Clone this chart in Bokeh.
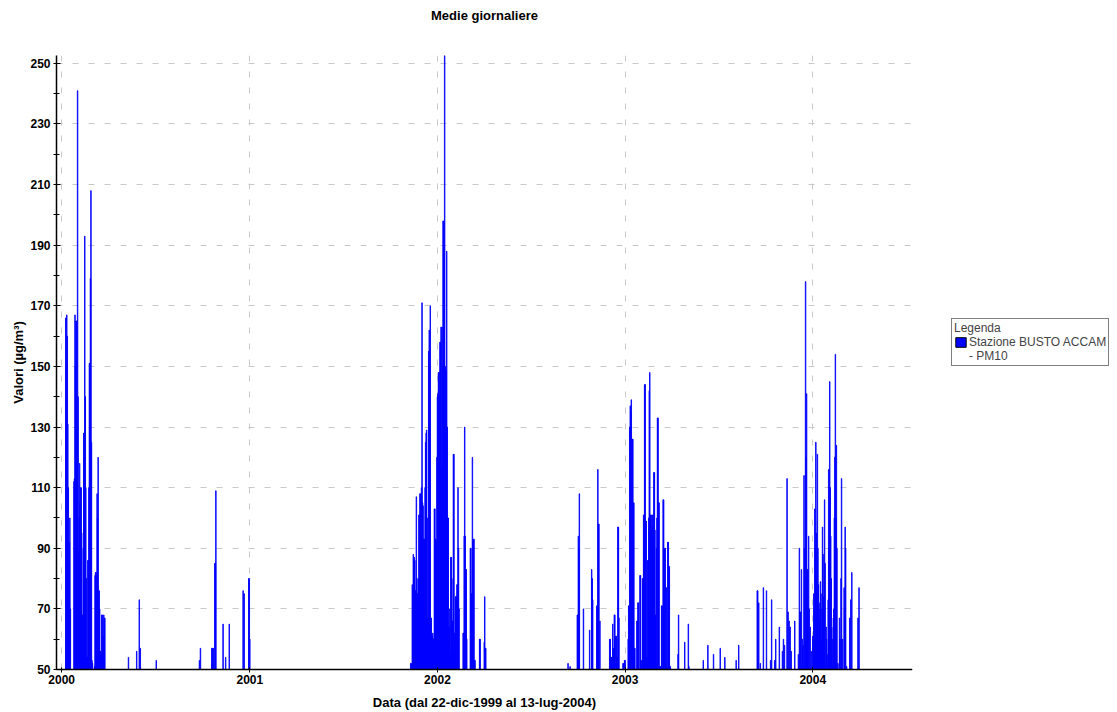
from datetime import datetime
from bokeh.plotting import figure
from bokeh.layouts import row
from bokeh.models import (Range1d, FixedTicker, DatetimeTickFormatter, Legend, LegendItem,
                          ColumnDataSource, Title)
from bokeh.embed import file_html
from bokeh.resources import INLINE

# ---------------- data (daily means, PM10, values above 50 shown) ----------------
dates_winter_2000 = [
    "2000-01-09", "2000-01-10", "2000-01-11", "2000-01-12", "2000-01-13", "2000-01-14", "2000-01-15",
    "2000-01-16", "2000-01-17", "2000-01-18",
    "2000-01-25", "2000-01-26", "2000-01-27", "2000-01-28", "2000-01-29", "2000-01-30", "2000-01-31",
    "2000-02-01", "2000-02-02", "2000-02-03", "2000-02-04", "2000-02-05", "2000-02-06", "2000-02-07",
    "2000-02-08", "2000-02-09", "2000-02-10", "2000-02-11", "2000-02-12", "2000-02-13", "2000-02-14",
    "2000-02-15", "2000-02-16", "2000-02-17", "2000-02-18", "2000-02-19", "2000-02-20", "2000-02-21",
    "2000-02-22", "2000-02-23", "2000-02-24", "2000-02-25", "2000-02-26", "2000-02-27", "2000-02-28",
    "2000-02-29", "2000-03-01",
    "2000-03-05", "2000-03-06", "2000-03-07", "2000-03-08", "2000-03-09", "2000-03-10", "2000-03-11",
    "2000-03-12", "2000-03-13", "2000-03-14", "2000-03-15", "2000-03-16", "2000-03-17", "2000-03-18",
    "2000-03-19", "2000-03-20", "2000-03-21", "2000-03-22", "2000-03-23", "2000-03-24", "2000-03-25",
]
values_winter_2000 = [
    166, 150, 167, 160, 131, 110, 85, 92, 100, 70,
    112, 113, 167, 150, 165, 165, 130, 241, 140, 89, 100, 118, 105, 110, 110, 95, 68, 68, 90, 128, 120,
    193, 140, 110, 80, 54, 54, 86, 86, 110, 151, 151, 179, 208, 125, 53, 52,
    51, 81, 82, 82, 81, 108, 100, 120, 76, 76, 70, 56, 56, 55, 68, 68, 61, 61, 68, 67, 67,
]

dates_2000_rest = [
    "2000-05-10", "2000-05-26", "2000-05-31", "2000-06-02", "2000-07-03", "2000-09-25", "2000-09-27",
    "2000-10-19", "2000-10-20", "2000-10-21", "2000-10-22", "2000-10-25", "2000-10-26", "2000-10-27",
    "2000-11-10", "2000-11-15", "2000-11-22", "2000-12-19", "2000-12-21", "2000-12-30", "2000-12-31",
    "2001-01-01",
]
values_2000_rest = [54, 56, 73, 57, 53, 53, 57, 57, 52, 57, 57, 85, 85, 109, 65, 54, 65, 76, 75, 80, 80, 60]

dates_winter_2002 = [
    "2001-11-10", "2001-11-11", "2001-11-13", "2001-11-14", "2001-11-15", "2001-11-16", "2001-11-17",
    "2001-11-18", "2001-11-19", "2001-11-20", "2001-11-21", "2001-11-22", "2001-11-23", "2001-11-24",
    "2001-11-25", "2001-11-26", "2001-11-27", "2001-11-28", "2001-11-29", "2001-11-30", "2001-12-01",
    "2001-12-02", "2001-12-03", "2001-12-04", "2001-12-05", "2001-12-06", "2001-12-07", "2001-12-08",
    "2001-12-09", "2001-12-10", "2001-12-11", "2001-12-12", "2001-12-13", "2001-12-14", "2001-12-15",
    "2001-12-16", "2001-12-17", "2001-12-18", "2001-12-19", "2001-12-20", "2001-12-21", "2001-12-22",
    "2001-12-23", "2001-12-24", "2001-12-25", "2001-12-26", "2001-12-27", "2001-12-28", "2001-12-29",
    "2001-12-30", "2001-12-31", "2002-01-01", "2002-01-02", "2002-01-03", "2002-01-04", "2002-01-05",
    "2002-01-06", "2002-01-07", "2002-01-08", "2002-01-09", "2002-01-10", "2002-01-11", "2002-01-12",
    "2002-01-13", "2002-01-14", "2002-01-15", "2002-01-16", "2002-01-17", "2002-01-18", "2002-01-19",
    "2002-01-20", "2002-01-21", "2002-01-22", "2002-01-23", "2002-01-24", "2002-01-25", "2002-01-26",
    "2002-01-27", "2002-01-28", "2002-01-29", "2002-01-30", "2002-01-31", "2002-02-01", "2002-02-02",
    "2002-02-03", "2002-02-04", "2002-02-05", "2002-02-06", "2002-02-07", "2002-02-08", "2002-02-09",
    "2002-02-10", "2002-02-11", "2002-02-12",
    "2002-02-20", "2002-02-21", "2002-02-22", "2002-02-23", "2002-02-24", "2002-02-25", "2002-02-26",
    "2002-02-27",
    "2002-03-06", "2002-03-07", "2002-03-08", "2002-03-09", "2002-03-10", "2002-03-11", "2002-03-12",
    "2002-03-13", "2002-03-14", "2002-03-15", "2002-03-24", "2002-03-25",
    "2002-04-02", "2002-04-03", "2002-04-04", "2002-04-05",
]
values_winter_2002 = [
    52, 52, 78, 76, 88, 86, 87,
    86, 76, 76, 107, 80, 75, 75,
    80, 101, 101, 108, 108, 95, 110,
    171, 105, 104, 93, 93, 93, 110,
    125, 128, 129, 100, 67, 67, 155,
    162, 150, 170, 67, 67, 61, 61,
    62, 60, 60, 103, 103, 93, 93,
    92, 120, 140, 141, 148, 148, 140,
    158, 158, 163, 116, 163, 150, 198,
    198, 190, 253, 150, 149, 148, 188,
    130, 100, 100, 64, 64, 70, 55,
    87, 87, 80, 66, 66, 121, 121,
    62, 62, 74, 74, 74, 78, 78,
    110, 90, 70,
    62, 62, 94, 130, 94, 83, 83,
    60,
    90, 90, 75, 75, 120, 93, 93,
    93, 53, 53, 60, 60,
    59, 74, 57, 57,
]

dates_winter_2003 = [
    "2002-09-12", "2002-09-16", "2002-09-30", "2002-10-01", "2002-10-02", "2002-10-03", "2002-10-04",
    "2002-10-12", "2002-10-24", "2002-10-28", "2002-10-29", "2002-10-30", "2002-11-07", "2002-11-08",
    "2002-11-09", "2002-11-10", "2002-11-11", "2002-11-13",
    "2002-12-02", "2002-12-03", "2002-12-05", "2002-12-06", "2002-12-08", "2002-12-09", "2002-12-10",
    "2002-12-11", "2002-12-12", "2002-12-14", "2002-12-15", "2002-12-16", "2002-12-17", "2002-12-18",
    "2002-12-19", "2002-12-20", "2002-12-28", "2002-12-29", "2002-12-31", "2003-01-01",
    "2003-01-07", "2003-01-08", "2003-01-09", "2003-01-10", "2003-01-11", "2003-01-12", "2003-01-13",
    "2003-01-14", "2003-01-15", "2003-01-16", "2003-01-17", "2003-01-18", "2003-01-19", "2003-01-20",
    "2003-01-24", "2003-01-25", "2003-01-26", "2003-01-27", "2003-01-30", "2003-01-31", "2003-02-01",
    "2003-02-03", "2003-02-04", "2003-02-05", "2003-02-06", "2003-02-07", "2003-02-08", "2003-02-09",
    "2003-02-10", "2003-02-11", "2003-02-12", "2003-02-13", "2003-02-14", "2003-02-15", "2003-02-16",
    "2003-02-17", "2003-02-18", "2003-02-19", "2003-02-20", "2003-02-21", "2003-02-22", "2003-02-23",
    "2003-02-24", "2003-02-25", "2003-02-26", "2003-02-27", "2003-02-28", "2003-03-01", "2003-03-02",
    "2003-03-03", "2003-03-04", "2003-03-05", "2003-03-06", "2003-03-07", "2003-03-08", "2003-03-10",
    "2003-03-11", "2003-03-13", "2003-03-14", "2003-03-16", "2003-03-17", "2003-03-19", "2003-03-20",
    "2003-03-21", "2003-03-22", "2003-03-25", "2003-03-26", "2003-03-27", "2003-03-28", "2003-03-30",
    "2003-04-14", "2003-04-15", "2003-04-27", "2003-05-04", "2003-05-05", "2003-06-02", "2003-06-11",
    "2003-06-22", "2003-07-05", "2003-07-14", "2003-08-05", "2003-08-10",
]
values_winter_2003 = [
    52, 51, 68, 68, 94, 90, 108,
    70, 63, 83, 80, 73, 71, 71,
    116, 98, 98, 66,
    60, 60, 54, 54, 65, 57, 57,
    68, 68, 61, 61, 54, 54, 97,
    97, 67, 52, 52, 53, 53,
    60, 71, 71, 130, 137, 135, 139,
    120, 126, 126, 105, 105, 57, 57,
    66, 66, 72, 72, 81, 81, 53,
    53, 80, 80, 101, 101, 144, 144,
    99, 99, 54, 54, 86, 86, 100,
    142, 148, 101, 101, 96, 101, 97,
    101, 96, 115, 115, 96, 68, 68,
    90, 100, 133, 133, 105, 105, 51,
    51, 71, 71, 106, 106, 90, 90,
    77, 77, 92, 92, 84, 84, 51,
    55, 68, 59, 65, 51, 53, 58,
    55, 57, 54, 53, 58,
]

dates_winter_2004 = [
    "2003-09-15", "2003-09-16", "2003-09-18", "2003-09-21", "2003-09-27", "2003-10-03", "2003-10-11",
    "2003-10-13", "2003-10-19", "2003-10-21", "2003-10-28", "2003-11-03", "2003-11-05", "2003-11-07",
    "2003-11-12", "2003-11-14", "2003-11-16", "2003-11-18", "2003-11-20", "2003-11-27",
    "2003-12-04", "2003-12-06", "2003-12-07", "2003-12-08", "2003-12-10", "2003-12-12", "2003-12-13",
    "2003-12-15", "2003-12-16", "2003-12-18", "2003-12-19", "2003-12-20", "2003-12-21", "2003-12-22",
    "2003-12-24", "2003-12-25", "2003-12-27", "2003-12-29", "2004-01-01", "2004-01-02", "2004-01-03",
    "2004-01-04", "2004-01-05", "2004-01-06", "2004-01-07", "2004-01-08", "2004-01-09", "2004-01-10",
    "2004-01-11", "2004-01-12", "2004-01-13", "2004-01-14", "2004-01-15", "2004-01-16", "2004-01-17",
    "2004-01-18", "2004-01-19", "2004-01-20", "2004-01-21", "2004-01-22", "2004-01-23", "2004-01-24",
    "2004-01-25", "2004-01-27", "2004-01-28", "2004-01-29", "2004-01-31", "2004-02-01", "2004-02-02",
    "2004-02-03", "2004-02-04", "2004-02-05", "2004-02-06", "2004-02-07", "2004-02-09", "2004-02-10",
    "2004-02-11", "2004-02-12", "2004-02-13", "2004-02-14", "2004-02-15", "2004-02-16", "2004-02-17",
    "2004-02-19", "2004-02-22", "2004-02-23", "2004-02-25", "2004-02-26", "2004-02-28", "2004-03-02",
    "2004-03-03", "2004-03-04", "2004-03-05", "2004-03-07", "2004-03-13", "2004-03-15", "2004-03-17",
    "2004-03-29", "2004-03-31",
]
values_winter_2004 = [
    76, 76, 72, 52, 77, 76, 53,
    73, 53, 60, 64, 56, 60, 58,
    113, 69, 66, 64, 56, 66,
    55, 90, 69, 69, 83, 60, 58,
    114, 90, 178, 120, 141, 83, 83,
    94, 70, 64, 56, 61, 60, 75,
    70, 103, 90, 125, 95, 80, 121,
    90, 78, 70, 66, 72, 79, 75,
    60, 70, 97, 88, 74, 70, 106,
    85, 64, 60, 55, 73, 116, 90,
    145, 110, 94, 80, 64, 60, 67,
    70, 100, 120, 154, 100, 124, 90,
    52, 67, 60, 80, 113, 60, 77,
    70, 97, 90, 51, 67, 73, 82,
    67, 77,
]

year_labels = ["2000", "2001", "2002", "2003", "2004"]
y_tick_values = [50, 70, 90, 110, 130, 150, 170, 190, 210, 230, 250]
y_minor_values = [60, 80, 100, 120, 140, 160, 180, 200, 220, 240]

series_name = "Stazione BUSTO ACCAM"
series_suffix = "- PM10"

# ---------------- build ----------------
EPOCH = datetime(1970, 1, 1)


def to_ms(d):
    return (d - EPOCH).total_seconds() * 1000.0


all_dates = (dates_winter_2000 + dates_2000_rest + dates_winter_2002 +
             dates_winter_2003 + dates_winter_2004)
all_values = (values_winter_2000 + values_2000_rest + values_winter_2002 +
              values_winter_2003 + values_winter_2004)
xs = [datetime.strptime(s, "%Y-%m-%d") for s in all_dates]
src = ColumnDataSource(dict(x=xs, top=all_values))

FONT = "Liberation Sans"
DAY = 86400000
BLUE = "#0000ff"

p = figure(width=912, height=712, x_axis_type="datetime", output_backend="svg",
           toolbar_location=None,
           x_range=Range1d(datetime(1999, 12, 22), datetime(2004, 7, 13)),
           y_range=Range1d(50, 252.6),
           min_border_left=56, min_border_right=0, min_border_top=54, min_border_bottom=43)
p.outline_line_color = None
p.background_fill_color = "white"
p.border_fill_color = "white"

# spacer title (closest to frame) then real title above it
p.add_layout(Title(text=" ", text_font=FONT, text_font_size="14px"), "above")
p.add_layout(Title(text="Medie giornaliere", align="center", text_font=FONT,
                   text_font_size="13px", text_font_style="bold", text_color="black"), "above")

p.vbar(x="x", top="top", bottom=0, width=DAY, source=src,
       fill_color=BLUE, line_color=BLUE, line_width=0.8)

# axes
p.xaxis.ticker = FixedTicker(ticks=[to_ms(datetime(int(y), 1, 1)) for y in year_labels], minor_ticks=[])
p.xaxis.formatter = DatetimeTickFormatter(years="%Y", months="%Y", days="%Y", hours="%Y",
                                          minutes="%Y", seconds="%Y", milliseconds="%Y",
                                          microseconds="%Y", hourmin="%Y", minsec="%Y")
p.yaxis.ticker = FixedTicker(ticks=y_tick_values, minor_ticks=y_minor_values)

for ax in (p.xaxis[0], p.yaxis[0]):
    ax.axis_line_color = "black"
    ax.axis_line_width = 1.5
    ax.major_tick_line_color = "black"
    ax.minor_tick_line_color = "black"
    ax.major_label_text_font = FONT
    ax.major_label_text_font_size = "12px"
    ax.major_label_text_font_style = "bold"
    ax.major_label_text_color = "black"
    ax.axis_label_text_font = FONT
    ax.axis_label_text_font_size = "13px"
    ax.axis_label_text_font_style = "bold"
    ax.axis_label_text_color = "black"

p.yaxis.major_tick_out = 3
p.yaxis.major_tick_in = 4
p.yaxis.minor_tick_out = 3
p.yaxis.minor_tick_in = 3
p.yaxis.major_label_standoff = 3
p.yaxis.axis_label_standoff = 1
p.yaxis.axis_label = "Valori (µg/m³)"

p.xaxis.major_tick_out = 3
p.xaxis.major_tick_in = 2
p.xaxis.major_label_standoff = 2
p.xaxis.axis_label_standoff = 8
p.xaxis.axis_label = "Data (dal 22-dic-1999 al 13-lug-2004)"

for g in (p.xgrid[0], p.ygrid[0]):
    g.grid_line_color = "#c8c8c8"
    g.grid_line_dash = "6 10"
    g.grid_line_width = 1

# ---------------- legend panel (separate blank figure at the right) ----------------
q = figure(width=205, height=712, output_backend="svg", toolbar_location=None,
           x_range=Range1d(0, 1), y_range=Range1d(0, 1),
           x_axis_location=None, y_axis_location=None,
           min_border_left=0, min_border_right=0, min_border_top=0, min_border_bottom=0)
q.outline_line_color = None
q.grid.visible = False
q.background_fill_color = "white"
q.border_fill_color = "white"

proxy_src = ColumnDataSource(dict(x=[-5.0], top=[-5.0]))
proxy = q.vbar(x="x", top="top", bottom=-6, width=0.1, source=proxy_src,
               fill_color=BLUE, line_color="black", line_width=1)
proxy2 = q.vbar(x="x", top="top", bottom=-6, width=0.1, source=proxy_src,
                fill_alpha=0, line_alpha=0)

legend = Legend(items=[LegendItem(label=series_name, renderers=[proxy], index=0),
                       LegendItem(label=series_suffix, renderers=[proxy2], index=0)],
                location=(39, 303), title="Legenda")
legend.title_text_font = FONT
legend.title_text_font_size = "12px"
legend.title_text_font_style = "normal"
legend.title_standoff = 0
legend.label_text_font = FONT
legend.label_text_font_size = "12px"
legend.label_height = 11
legend.glyph_height = 12
legend.glyph_width = 13
legend.label_standoff = 2
legend.spacing = 0
legend.padding = 2
legend.margin = 0
legend.border_line_color = "black"
legend.border_line_width = 1
legend.background_fill_color = "white"
legend.background_fill_alpha = 1
q.add_layout(legend)

layout = row(p, q, spacing=0)
open("out.html", "w").write(file_html(layout, INLINE))
